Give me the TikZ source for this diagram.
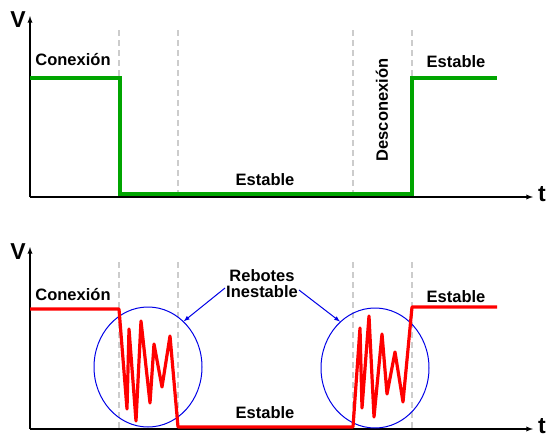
\documentclass[tikz,border=0pt]{standalone}
\usepackage{fontspec}
\setmainfont{Liberation Sans}
\usetikzlibrary{arrows,shapes.geometric}
\definecolor{verde}{RGB}{0,165,0}
\definecolor{rojo}{RGB}{255,0,0}
\definecolor{azul}{RGB}{0,0,230}
\tikzset{
  lbl/.style={font=\bfseries\fontsize{16.5}{19}\selectfont},
  axlbl/.style={font=\bfseries\fontsize{23}{25}\selectfont},
  axis/.style={line width=1.3pt,-latex},
  guide/.style={black!20,line width=1.5pt,dash pattern=on 6pt off 4pt},
  senal/.style={line width=3.6pt},
  rebote/.style={ellipse,draw=azul,line width=1pt,minimum width=108pt,minimum height=120pt},
}

\begin{document}
\begin{tikzpicture}[x=1pt,y=-1pt]
    \useasboundingbox (0,0) rectangle (557,442);

    % arriba: conexion ideal
    \coordinate (o1) at (30,197);
    \coordinate (y1) at (30,16);
    \coordinate (x1) at (533,197);
    \node[axlbl] (v1) at (18,20) {V};
    \node[axlbl] (t1) at (542,194) {t};
    \foreach \x in {119,178,353,412} \draw[guide] (\x,30) -- (\x,197);
    \draw[axis] (o1) -- (y1);
    \draw[axis] (o1) -- (x1);
    \draw[senal,verde] (30,78) -- (120,78) -- (120,194) -- (412,194) -- (412,78) -- (497,78);
    \node[lbl] (con1) at (73,60) {Conexión};
    \node[lbl] (est1) at (265,180) {Estable};
    \node[lbl,rotate=90] (des1) at (382,110) {Desconexión};
    \node[lbl] (est2) at (456,62) {Estable};

    % abajo: con rebotes
    \coordinate (o2) at (30,429);
    \coordinate (y2) at (30,247);
    \coordinate (x2) at (533,429);
    \node[axlbl] (v2) at (18,252) {V};
    \node[axlbl] (t2) at (542,426) {t};
    \foreach \x in {119,178,353,412} \draw[guide] (\x,262) -- (\x,429);
    \draw[axis] (o2) -- (y2);
    \draw[axis] (o2) -- (x2);
    \node[rebote] (reb1) at (148,367) {};
    \node[rebote] (reb2) at (375,368) {};
    \draw[senal,rojo,line width=3.2pt,line join=round] (30,309) -- (119,309) -- (127,409) -- (129,329) -- (136,421)
        -- (141,321) -- (150,403) -- (154,344) -- (162,387) -- (170,336)
        -- (178,427) -- (353,427) -- (360,328) -- (362,408) -- (369,316)
        -- (374,417) -- (382,334) -- (387,394) -- (395,352) -- (403,402)
        -- (412,307) -- (497,307);
    \node[lbl] (con2) at (73,295) {Conexión};
    \node[lbl] (est3) at (265,413) {Estable};
    \node[lbl] (est4) at (456,297) {Estable};
    \node[lbl,align=center,inner sep=1pt] (reb) at (262,284) {Rebotes\\[-3pt]Inestable};

    \draw[azul,line width=1pt,-latex] ([yshift=-4pt]reb.west) -- (reb1.52);
    \draw[azul,line width=1pt,-latex] ([yshift=-6pt]reb.east) -- (reb2.127);
\end{tikzpicture}
\end{document}
